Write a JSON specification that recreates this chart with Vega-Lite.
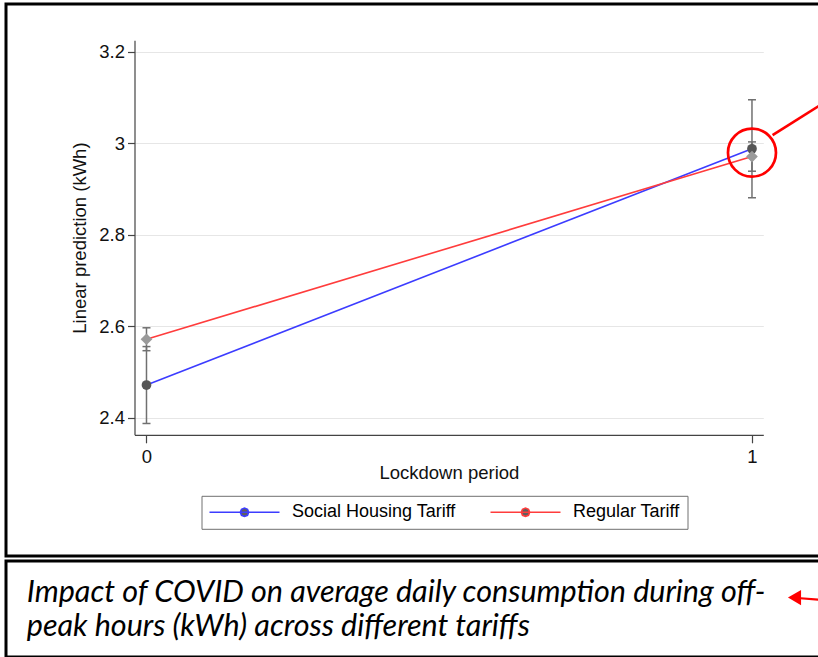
{
  "$schema": "https://vega.github.io/schema/vega-lite/v6.json",
  "background": "white",
  "padding": {"left": 4, "top": 2, "right": 0, "bottom": 0},
  "spacing": 1,
  "config": {
    "view": {"stroke": "#000000", "strokeWidth": 3},
    "font": "Liberation Sans",
    "axis": {
      "labelFont": "Liberation Sans",
      "labelFontSize": 18.5,
      "labelColor": "#111111",
      "titleFont": "Liberation Sans",
      "titleFontSize": 18.5,
      "titleFontWeight": "normal",
      "titleColor": "#111111",
      "domainColor": "#444444",
      "domainWidth": 1.2,
      "tickColor": "#444444",
      "tickWidth": 1.2,
      "gridColor": "#e6e6e6",
      "gridWidth": 1
    }
  },
  "vconcat": [
    {
      "width": 815,
      "height": 552,
      "data": {
        "values": [
          {"tariff": "Social Housing Tariff", "lockdown": 0, "margin": 2.472, "lo": 2.388, "hi": 2.556},
          {"tariff": "Social Housing Tariff", "lockdown": 1, "margin": 2.988, "lo": 2.881, "hi": 3.095},
          {"tariff": "Regular Tariff", "lockdown": 0, "margin": 2.572, "lo": 2.547, "hi": 2.597},
          {"tariff": "Regular Tariff", "lockdown": 1, "margin": 2.971, "lo": 2.939, "hi": 3.003}
        ]
      },
      "layer": [
        {
          "mark": {"type": "rule", "color": "#707070", "strokeWidth": 1.5},
          "encoding": {
            "x": {
              "field": "lockdown", "type": "quantitative",
              "scale": {"domain": [-0.0198, 1.0187], "range": [128.5, 757.3], "nice": false, "zero": false},
              "axis": {"orient": "bottom", "offset": -121.2, "values": [0, 1], "format": "d", "title": "Lockdown period",
                       "grid": false, "tickSize": 8, "labelPadding": 5, "titlePadding": -3}
            },
            "y": {
              "field": "lo", "type": "quantitative",
              "scale": {"domain": [2.3633, 3.2249], "range": [430.8, 36.3], "nice": false, "zero": false},
              "axis": {"orient": "left", "offset": -128.5, "values": [2.4, 2.6, 2.8, 3, 3.2], "format": "~g",
                       "title": "Linear prediction (kWh)", "grid": true, "tickSize": 7, "labelPadding": 3, "titlePadding": 9}
            },
            "y2": {"field": "hi"}
          }
        },
        {
          "mark": {"type": "tick", "orient": "horizontal", "color": "#707070", "size": 8, "thickness": 1.5, "opacity": 1},
          "encoding": {
            "x": {"field": "lockdown", "type": "quantitative"},
            "y": {"field": "lo", "type": "quantitative"}
          }
        },
        {
          "mark": {"type": "tick", "orient": "horizontal", "color": "#707070", "size": 8, "thickness": 1.5, "opacity": 1},
          "encoding": {
            "x": {"field": "lockdown", "type": "quantitative"},
            "y": {"field": "hi", "type": "quantitative"}
          }
        },
        {
          "mark": {"type": "line", "strokeWidth": 1.6},
          "encoding": {
            "x": {"field": "lockdown", "type": "quantitative"},
            "y": {"field": "margin", "type": "quantitative"},
            "stroke": {
              "field": "tariff", "type": "nominal", "sort": "descending",
              "scale": {"range": ["#3c3cff", "#ff3c3c"]},
              "legend": {
                "orient": "none", "legendX": 195.5, "legendY": 491.8, "direction": "horizontal", "title": null,
                "symbolType": "M-1,0H1M0.12,0L0.085,0.085L0,0.12L-0.085,0.085L-0.12,0L-0.085,-0.085L0,-0.12L0.085,-0.085Z",
                "symbolSize": 4900, "symbolStrokeWidth": 1.6, "symbolFillColor": "#5e5e5e",
                "labelFont": "Liberation Sans", "labelFontSize": 18, "labelColor": "#000000", "labelOffset": 11.4,
                "labelLimit": 400, "columnPadding": 33, "padding": 7, "clipHeight": 19,
                "strokeColor": "#707070"
              }
            }
          }
        },
        {
          "mark": {"type": "point", "filled": true, "opacity": 1, "strokeWidth": 0},
          "encoding": {
            "x": {"field": "lockdown", "type": "quantitative"},
            "y": {"field": "margin", "type": "quantitative"},
            "fill": {
              "field": "tariff", "type": "nominal",
              "scale": {"domain": ["Social Housing Tariff", "Regular Tariff"], "range": ["#565656", "#9a9a9a"]},
              "legend": null
            },
            "shape": {
              "field": "tariff", "type": "nominal",
              "scale": {"domain": ["Social Housing Tariff", "Regular Tariff"], "range": ["circle", "diamond"]},
              "legend": null
            },
            "size": {
              "field": "tariff", "type": "nominal",
              "scale": {"domain": ["Social Housing Tariff", "Regular Tariff"], "range": [95, 137]},
              "legend": null
            }
          }
        },
        {
          "transform": [
            {"filter": "datum.lockdown === 1"},
            {"aggregate": [{"op": "mean", "field": "margin", "as": "center"}], "groupby": ["lockdown"]}
          ],
          "mark": {"type": "point", "shape": "circle", "filled": false, "stroke": "#ff0000", "strokeWidth": 2.7, "size": 2304, "opacity": 1},
          "encoding": {
            "x": {"field": "lockdown", "type": "quantitative"},
            "y": {"field": "center", "type": "quantitative"}
          }
        },
        {
          "data": {"values": [{}]},
          "mark": {"type": "rule", "color": "#ff0000", "strokeWidth": 2.7},
          "encoding": {
            "x": {"datum": 1.034, "type": "quantitative"},
            "x2": {"datum": 1.2},
            "y": {"datum": 3.018, "type": "quantitative"},
            "y2": {"datum": 3.156}
          }
        }
      ]
    },
    {
      "width": 815,
      "height": 96,
      "data": {
        "values": [
          {"caption": "Impact of COVID on average daily consumption during off-\npeak hours (kWh) across different tariffs"}
        ]
      },
      "layer": [
        {
          "mark": {"type": "text", "align": "left", "baseline": "alphabetic", "lineBreak": "\n", "lineHeight": 34.5,
                   "font": "Lato", "fontStyle": "italic", "fontWeight": "normal", "fontSize": 30.5, "color": "#000000"},
          "encoding": {
            "x": {"datum": 0.0255, "type": "quantitative", "scale": {"domain": [0, 1], "nice": false, "zero": false}, "axis": null},
            "y": {"datum": 0.578, "type": "quantitative", "scale": {"domain": [0, 1], "nice": false, "zero": false}, "axis": null},
            "text": {"field": "caption", "type": "nominal"}
          }
        },
        {
          "mark": {"type": "rule", "color": "#ff0000", "strokeWidth": 2.2},
          "encoding": {
            "x": {"datum": 0.967, "type": "quantitative"},
            "x2": {"datum": 1.012},
            "y": {"datum": 0.617, "type": "quantitative"},
            "y2": {"datum": 0.586}
          }
        },
        {
          "mark": {"type": "point", "shape": "triangle-left", "filled": true, "color": "#ff0000", "size": 230, "opacity": 1},
          "encoding": {
            "x": {"datum": 0.9675, "type": "quantitative"},
            "y": {"datum": 0.619, "type": "quantitative"}
          }
        }
      ]
    }
  ]
}
